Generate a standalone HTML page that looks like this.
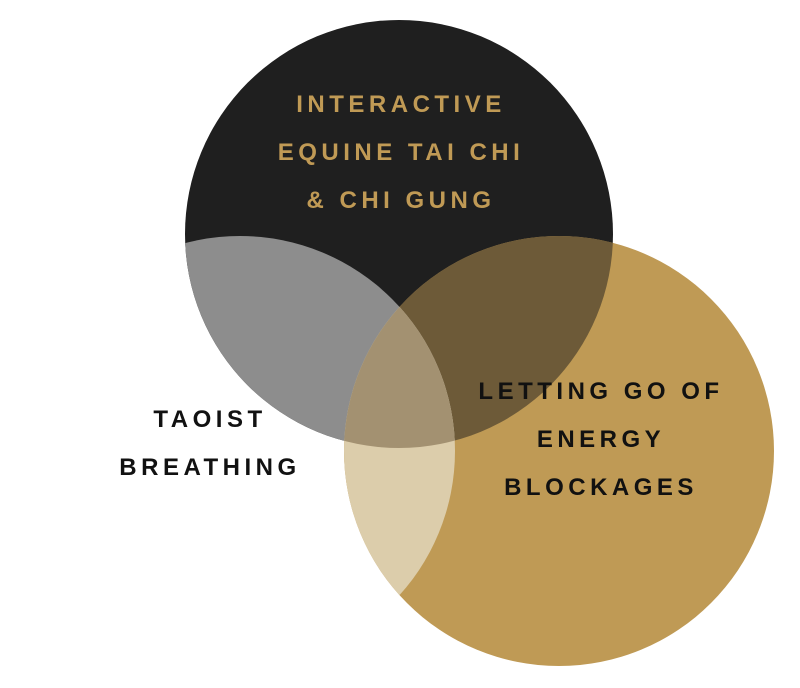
<!DOCTYPE html>
<html><head><meta charset="utf-8"><style>
html,body{margin:0;padding:0;background:#fff;}
svg{display:block;}
text{font-family:"Liberation Sans","DejaVu Sans",sans-serif;font-size:24px;font-weight:bold;letter-spacing:4.5px;text-anchor:middle;}
</style></head><body>
<svg width="800" height="688" viewBox="0 0 800 688" xmlns="http://www.w3.org/2000/svg">
<defs>
<clipPath id="cT"><circle cx="399" cy="234" r="214"/></clipPath>
<clipPath id="cB"><circle cx="559" cy="451" r="215"/></clipPath>
<clipPath id="cW"><circle cx="240" cy="451" r="215"/></clipPath>
</defs>
<circle cx="399" cy="234" r="214" fill="#1f1f1f"/>
<circle cx="559" cy="451" r="215" fill="#bf9a55"/>
<g clip-path="url(#cT)"><circle cx="559" cy="451" r="215" fill="#6d5a38"/></g>
<g clip-path="url(#cW)">
<circle cx="399" cy="234" r="214" fill="#8d8d8d"/>
<circle cx="559" cy="451" r="215" fill="#dccdab"/>
<g clip-path="url(#cT)"><circle cx="559" cy="451" r="215" fill="#a39171"/></g>
</g>
<g fill="#c09a55">
<text x="401" y="112">INTERACTIVE</text>
<text x="401" y="160">EQUINE TAI CHI</text>
<text x="401" y="208">&amp; CHI GUNG</text>
</g>
<g fill="#111">
<text x="210" y="427">TAOIST</text>
<text x="210" y="475">BREATHING</text>
<text x="601" y="399">LETTING GO OF</text>
<text x="601" y="447">ENERGY</text>
<text x="601" y="495">BLOCKAGES</text>
</g>
</svg>
</body></html>
